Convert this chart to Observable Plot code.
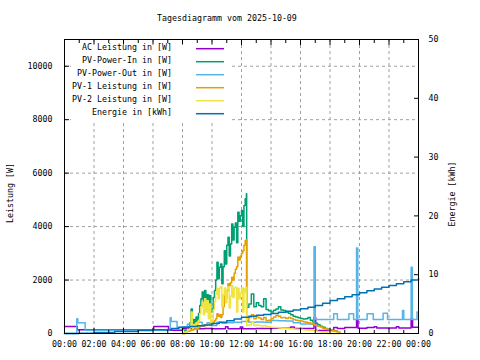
<!DOCTYPE html>
<html><head><meta charset="utf-8">
<script src="https://cdn.jsdelivr.net/npm/d3@7"></script>
<script src="https://cdn.jsdelivr.net/npm/@observablehq/plot@0.6"></script>
<style>body{margin:0;background:#fff} svg{display:block}</style>
</head><body><div id="chart"></div>
<script>
const title = "Tagesdiagramm vom 2025-10-09";
const yLabel = "Leistung [W]";
const y2Label = "Energie [kWh]";
const seriesNames = ["AC Leistung in [W]","PV-Power-In in [W]","PV-Power-Out in [W]","PV-1 Leistung in [W]","PV-2 Leistung in [W]","Energie in [kWh]"];
const seriesColors = ["#9400d3","#009e73","#56b4e9","#e69f00","#f0e442","#0072b2"];
const xTickHours = [0,2,4,6,8,10,12,14,16,18,20,22,24];
const xMinorHours = [1,3,5,7,9,11,13,15,17,19,21,23];
const yTicks = [0,2000,4000,6000,8000,10000];
const y2Ticks = [0,10,20,30,40,50];

// AC Leistung
const acTimes = ["00:00","00:52","06:03","07:03","08:00","09:30","10:00","10:55","11:05","11:55","12:05","13:00","14:00","15:20","15:35","16:55","17:02","18:15","18:30","19:00","19:48","19:54","20:30","21:00","21:10","22:30","22:40","23:30","23:36","24:00"];
const acValues = [260,140,260,120,175,190,175,250,175,240,175,185,200,240,190,600,110,220,190,220,520,200,220,250,210,250,210,560,230,230];

// PV-Power-Out
const outTimes = ["00:00","00:50","00:54","01:24","07:10","07:14","07:38","08:00","08:20","08:40","09:00","09:20","09:40","10:00","10:20","10:40","11:00","11:30","12:00","12:30","13:00","13:30","14:00","14:30","15:00","15:30","16:00","16:55","17:00","18:15","18:30","19:17","19:36","19:48","19:53","20:31","20:56","21:36","21:54","22:55","23:00","23:30","23:35","23:54","24:00"];
const outValues = [0,550,400,120,590,450,220,250,350,300,420,330,400,300,420,380,400,420,450,420,430,420,490,480,470,400,360,3250,520,740,520,740,520,3200,520,740,520,760,520,860,520,2480,520,800,800];

// Energie (kWh)
const eTimes = ["00:00","01:00","02:00","03:24","05:00","06:03","07:15","07:45","08:30","09:00","09:30","10:00","10:30","11:00","11:30","12:00","12:30","13:00","13:30","14:00","14:30","15:00","15:30","16:00","16:30","17:00","17:30","18:00","18:30","19:00","19:30","20:00","20:30","21:00","21:30","22:00","22:30","23:00","23:30","24:00"];
const eValues = [0,0.05,0.15,0.35,0.5,0.65,0.85,1.05,1.2,1.3,1.45,1.7,1.9,2.15,2.45,2.75,2.95,3.1,3.25,3.4,3.6,3.8,4.0,4.2,4.45,4.75,5.15,5.6,5.9,6.25,6.6,6.95,7.25,7.55,7.85,8.15,8.45,8.8,9.1,9.35];

// PV series (shared times)
const pvTimes = ["08:00","08:10","08:20",
 "08:30","08:35","08:40","08:45","08:50","08:55","09:00","09:05","09:10","09:15","09:20","09:25","09:30","09:35","09:40","09:45","09:50","09:55",
 "10:00","10:05","10:10","10:15","10:20","10:25","10:30","10:35","10:40","10:45","10:50","10:55",
 "11:00","11:05","11:10","11:15","11:20","11:25","11:30","11:35","11:40","11:45","11:50","11:55",
 "12:00","12:05","12:10","12:15","12:20","12:21",
 "12:30","12:40","12:50","13:00","13:10","13:20","13:30","13:40","13:50","14:00","14:10","14:20","14:30","14:40","14:50",
 "15:00","15:10","15:20","15:30","15:40","15:50","16:00","16:10","16:20","16:30","16:40","16:50",
 "17:00","17:10","17:20","17:30","17:40","17:50","18:00","18:10","18:20","18:30","18:40"];
const pvInValues = [0,120,250,
 400,920,350,520,400,620,480,750,1050,1300,1550,1050,1610,1150,1450,950,1420,800,
 920,1350,1610,2000,2670,2050,2480,2600,1860,2500,3100,2600,
 3300,3600,2900,3350,4100,3500,3980,4130,3400,4540,4200,4410,
 4600,4000,4790,5040,5230,980,
 1100,1480,1000,1150,1050,1000,1300,900,850,800,870,920,1000,880,860,
 800,760,700,650,620,590,560,540,550,600,500,440,
 380,330,270,230,190,160,140,115,90,50,0];
const pv1Values = [0,40,80,
 100,120,130,150,160,180,200,220,250,270,300,280,320,300,350,330,380,300,
 350,420,480,550,740,650,700,600,700,1000,1420,1300,
 1600,1860,1800,1900,2100,2000,2250,2400,2500,2850,2750,2900,
 3000,3100,3300,3480,3500,490,
 600,700,550,620,580,520,600,480,500,550,620,670,650,590,600,
 560,600,560,520,500,480,470,440,420,400,380,340,
 300,270,240,200,180,150,130,110,90,50,0];
const pv2Values = [0,60,150,
 250,800,200,330,220,400,260,500,750,1000,1170,700,1300,800,1230,550,1100,420,
 500,900,1200,1480,1670,1300,1700,1750,1000,1450,1700,1150,
 1650,1750,950,1400,1800,1350,1700,1730,800,1690,1300,1510,
 1700,800,1690,1560,1730,300,
 330,400,300,320,300,280,300,260,250,230,220,220,210,200,200,
 190,180,180,170,160,150,150,140,130,120,110,100,
 90,70,60,50,30,0,0,0,0,0,0];

const toH = s => +s.slice(0,2) + +s.slice(3)/60;
const E2W = 11000/50;
const rec = (times, vals, k=1) => times.map((t,i) => ({t: toH(t), v: vals[i]*k}));
const series = [
  rec(acTimes, acValues),
  rec(pvTimes, pvInValues),
  rec(outTimes, outValues),
  rec(pvTimes, pv1Values),
  rec(pvTimes, pv2Values),
  rec(eTimes, eValues, E2W)
];

const grid = {stroke:"#a0a0a0", strokeOpacity:1, strokeDasharray:"3,3", strokeWidth:1};
const blank = () => "";
const plot = Plot.plot({
  width: 480, height: 360,
  marginLeft: 64, marginRight: 62, marginTop: 39, marginBottom: 27,
  style: {fontFamily: "DejaVu Sans Mono", fontSize: "8.3px", background: "white", color: "black"},
  x: {domain: [0,24], label: null},
  y: {domain: [0,11000], label: null},
  marks: [
    Plot.gridY(yTicks.filter(d => d > 0), grid),
    Plot.gridX(xTickHours.filter(d => d > 0 && d < 24), grid),
    ...series.map((d,i) => Plot.line(d, {x:"t", y:"v", curve:"step-after", stroke: seriesColors[i], strokeWidth: 1.5})),
    Plot.frame({stroke:"black", strokeWidth:1}),
    Plot.axisX(xTickHours, {anchor:"bottom", tickSize:-5, tickPadding:13, tickFormat: h => String(h%24).padStart(2,"0")+":00"}),
    Plot.axisX(xTickHours, {anchor:"top", tickSize:-5, tickFormat: blank}),
    Plot.axisX(xMinorHours, {anchor:"bottom", tickSize:-3, tickFormat: blank}),
    Plot.axisX(xMinorHours, {anchor:"top", tickSize:-3, tickFormat: blank}),
    Plot.axisY(yTicks, {anchor:"left", tickSize:-5, tickPadding:17, tickFormat: d => String(d)}),
    Plot.axisY(y2Ticks.map(e => e*E2W), {anchor:"right", tickSize:-5, tickPadding:15, tickFormat: d => String(Math.round(d/E2W))})
  ]
});
document.getElementById("chart").append(plot);

const svg = d3.select(plot);
const font = {"font-family":"DejaVu Sans Mono", "font-size":"8.3px", "fill":"black"};
const txt = (x,y,s,anchor,rot) => {
  const t = svg.append("text").attr("x",x).attr("y",y).attr("text-anchor",anchor).attr("dominant-baseline","central").text(s);
  Object.entries(font).forEach(([k,v]) => t.attr(k,v));
  if (rot) t.attr("transform", `rotate(${rot},${x},${y})`);
  return t;
};
txt(157, 17.5, title, "start");
txt(9.7, 193, yLabel, "middle", -90);
txt(452, 194, y2Label, "middle", -90);
// opaque key box (no border), as in the reference; keeps frame and ticks visible
svg.append("rect").attr("x",71).attr("y",44.5).attr("width",160).attr("height",77).attr("fill","white");
seriesNames.forEach((name,i) => {
  const y = 46.7 + i*13;
  txt(172, y, name, "end");
  svg.append("line").attr("x1",196).attr("x2",224).attr("y1",y+2).attr("y2",y+2)
    .attr("stroke", seriesColors[i]).attr("stroke-width",1.5);
});
</script></body></html>
